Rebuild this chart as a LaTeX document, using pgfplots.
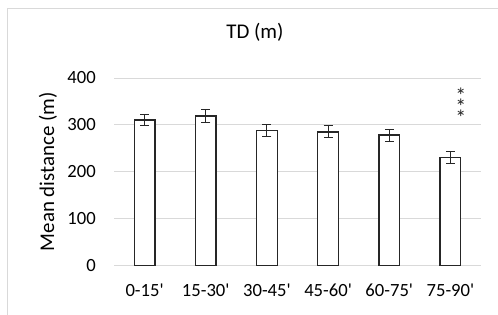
\documentclass[border=0pt]{standalone}
\usepackage{pgfplots}
\pgfplotsset{compat=1.18}
\usepackage{fontspec}
\setmainfont{Carlito}[Ligatures=TeXOff]
\definecolor{gridgray}{RGB}{217,217,217}
\definecolor{bardark}{RGB}{38,38,38}
\begin{document}
\begin{tikzpicture}[x=1bp,y=1bp]
\path[use as bounding box] (0,0) rectangle (498,314);
\draw[gridgray, line width=1bp] (7,-5) -- (7,305) -- (505,305);
\begin{axis}[
  at={(114bp,48.7bp)}, anchor=south west,
  scale only axis, width=367bp, height=187.3bp,
  xmin=-0.5, xmax=5.5, ymin=0, ymax=400,
  xtick={0,1,2,3,4,5},
  xticklabels={0-15',15-30',30-45',45-60',60-75',75-90'},
  ytick={0,100,200,300,400},
  axis line style={draw=none},
  major tick length=0pt,
  ymajorgrids, major grid style={gridgray, line width=1bp},
  /pgf/number format/assume math mode=true,
  tick label style={font=\fontsize{18.7}{22}\selectfont, text=black},
  yticklabel style={inner sep=0pt, anchor=east, xshift=-18bp},
  xticklabel style={inner sep=0pt, anchor=north, yshift=-18bp},
  title={TD (m)},
  title style={font=\fontsize{21}{24}\selectfont, at={(axis description cs:0.384,1.2136)}, anchor=center, inner sep=0pt},
  ylabel={Mean distance (m)},
  ylabel style={font=\fontsize{21}{24}\selectfont, at={(axis description cs:-0.180,0.5)}, anchor=center, rotate=0, inner sep=0pt},
  clip=false,
]
\addplot[ybar, bar width=20.7bp, fill=white, draw=bardark, line width=1.3bp,
  error bars/.cd, y dir=both, y explicit,
  error bar style={bardark, line width=1bp},
  error mark options={rotate=90, mark size=4.5bp, bardark, line width=1bp}]
  coordinates {
  (0,310) +- (0,12)
  (1,319) +- (0,13)
  (2,288) +- (0,13)
  (3,285) +- (0,13)
  (4,278) +- (0,13)
  (5,230) +- (0,13)
  };
\node[font=\fontsize{22}{22}\selectfont, inner sep=0pt, anchor=base, text=bardark] at (axis cs:5.17,346.5) {*};
\node[font=\fontsize{22}{22}\selectfont, inner sep=0pt, anchor=base, text=bardark] at (axis cs:5.17,323) {*};
\node[font=\fontsize{22}{22}\selectfont, inner sep=0pt, anchor=base, text=bardark] at (axis cs:5.17,299.5) {*};
\end{axis}
\end{tikzpicture}
\end{document}
